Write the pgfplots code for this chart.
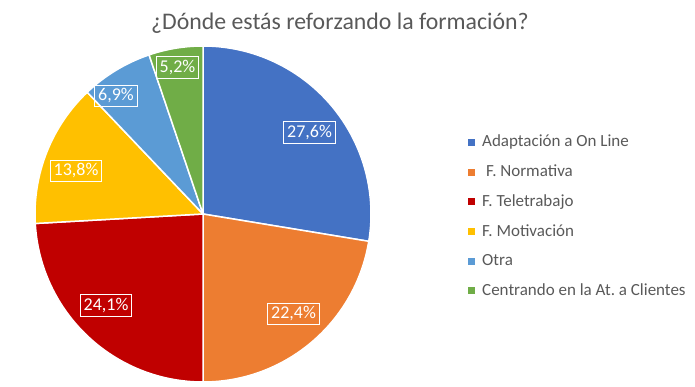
\documentclass[border=0pt]{standalone}
\usepackage{pgfplots}
\usepackage{pgfplotstable}
\pgfplotsset{compat=1.18}
\usepackage{fontspec}
\setmainfont{Carlito}
\frenchspacing
\definecolor{cA}{HTML}{4472C4}
\definecolor{cB}{HTML}{ED7D31}
\definecolor{cC}{HTML}{C00000}
\definecolor{cD}{HTML}{FFC000}
\definecolor{cE}{HTML}{5B9BD5}
\definecolor{cF}{HTML}{70AD47}
\definecolor{txt}{HTML}{595959}
\pgfplotstableread[col sep=comma]{
name,value,col,lx,ly,lab
Adaptación a On Line,27.6,cA,309.5,254.5,{27,6\%}
F. Normativa,22.4,cB,293.5,73,{22,4\%}
F. Teletrabajo,24.1,cC,106,81.5,{24,1\%}
F. Motivación,13.8,cD,76,216,{13,8\%}
Otra,6.9,cE,116,291,{6,9\%}
Centrando en la At. a Clientes,5.2,cF,177.5,319.5,{5,2\%}
}\data
\begin{document}
\begin{tikzpicture}
\begin{axis}[x=1pt,y=1pt,xmin=0,xmax=695,ymin=0,ymax=387,hide axis,clip=false,
  legend style={draw=none,fill=none,at={(axis cs:465,256)},anchor=north west,
    row sep=12.6pt,font=\fontsize{17}{18.5}\selectfont,text=txt,
    /tikz/every odd column/.append style={column sep=6pt}},
  legend cell align=left]
\path (axis cs:0,0) rectangle (axis cs:695,387);
\def\cum{0}
\pgfplotsforeachungrouped \i in {0,...,5}{%
  \pgfplotstablegetelem{\i}{value}\of\data \let\v\pgfplotsretval
  \pgfplotstablegetelem{\i}{col}\of\data \let\c\pgfplotsretval
  \pgfmathsetmacro\a{90-3.6*\cum}%
  \pgfmathsetmacro\b{90-3.6*(\cum+\v)}%
  \edef\cmd{\noexpand\fill[\c, draw=white, line width=1.5pt, line join=round] (axis cs:203,173) -- ++(\a:168pt) arc[start angle=\a, end angle=\b, radius=168pt] -- cycle;}%
  \cmd
  \pgfmathsetmacro\cum{\cum+\v}%
}
\pgfplotsforeachungrouped \i in {0,...,5}{%
  \pgfplotstablegetelem{\i}{lx}\of\data \let\lx\pgfplotsretval
  \pgfplotstablegetelem{\i}{ly}\of\data \let\ly\pgfplotsretval
  \pgfplotstablegetelem{\i}{lab}\of\data \let\lab\pgfplotsretval
  \edef\cmd{\noexpand\node[draw=white,line width=0.9pt,text=white,inner sep=3.5pt,font=\noexpand\fontsize{18}{20}\noexpand\selectfont] at (axis cs:\lx,\ly) {\lab};}%
  \cmd
}
\node[text=txt,font=\fontsize{23.8}{26}\selectfont] at (axis cs:340,364) {¿Dónde estás reforzando la formación?};
\addlegendimage{only marks,mark=square*,mark size=3pt,cA}
\addlegendimage{only marks,mark=square*,mark size=3pt,cB}
\addlegendimage{only marks,mark=square*,mark size=3pt,cC}
\addlegendimage{only marks,mark=square*,mark size=3pt,cD}
\addlegendimage{only marks,mark=square*,mark size=3pt,cE}
\addlegendimage{only marks,mark=square*,mark size=3pt,cF}
\legend{Adaptación a On Line,\ F. Normativa,F. Teletrabajo,F. Motivación,Otra,Centrando en la At. a Clientes}
\end{axis}
\end{tikzpicture}
\end{document}
